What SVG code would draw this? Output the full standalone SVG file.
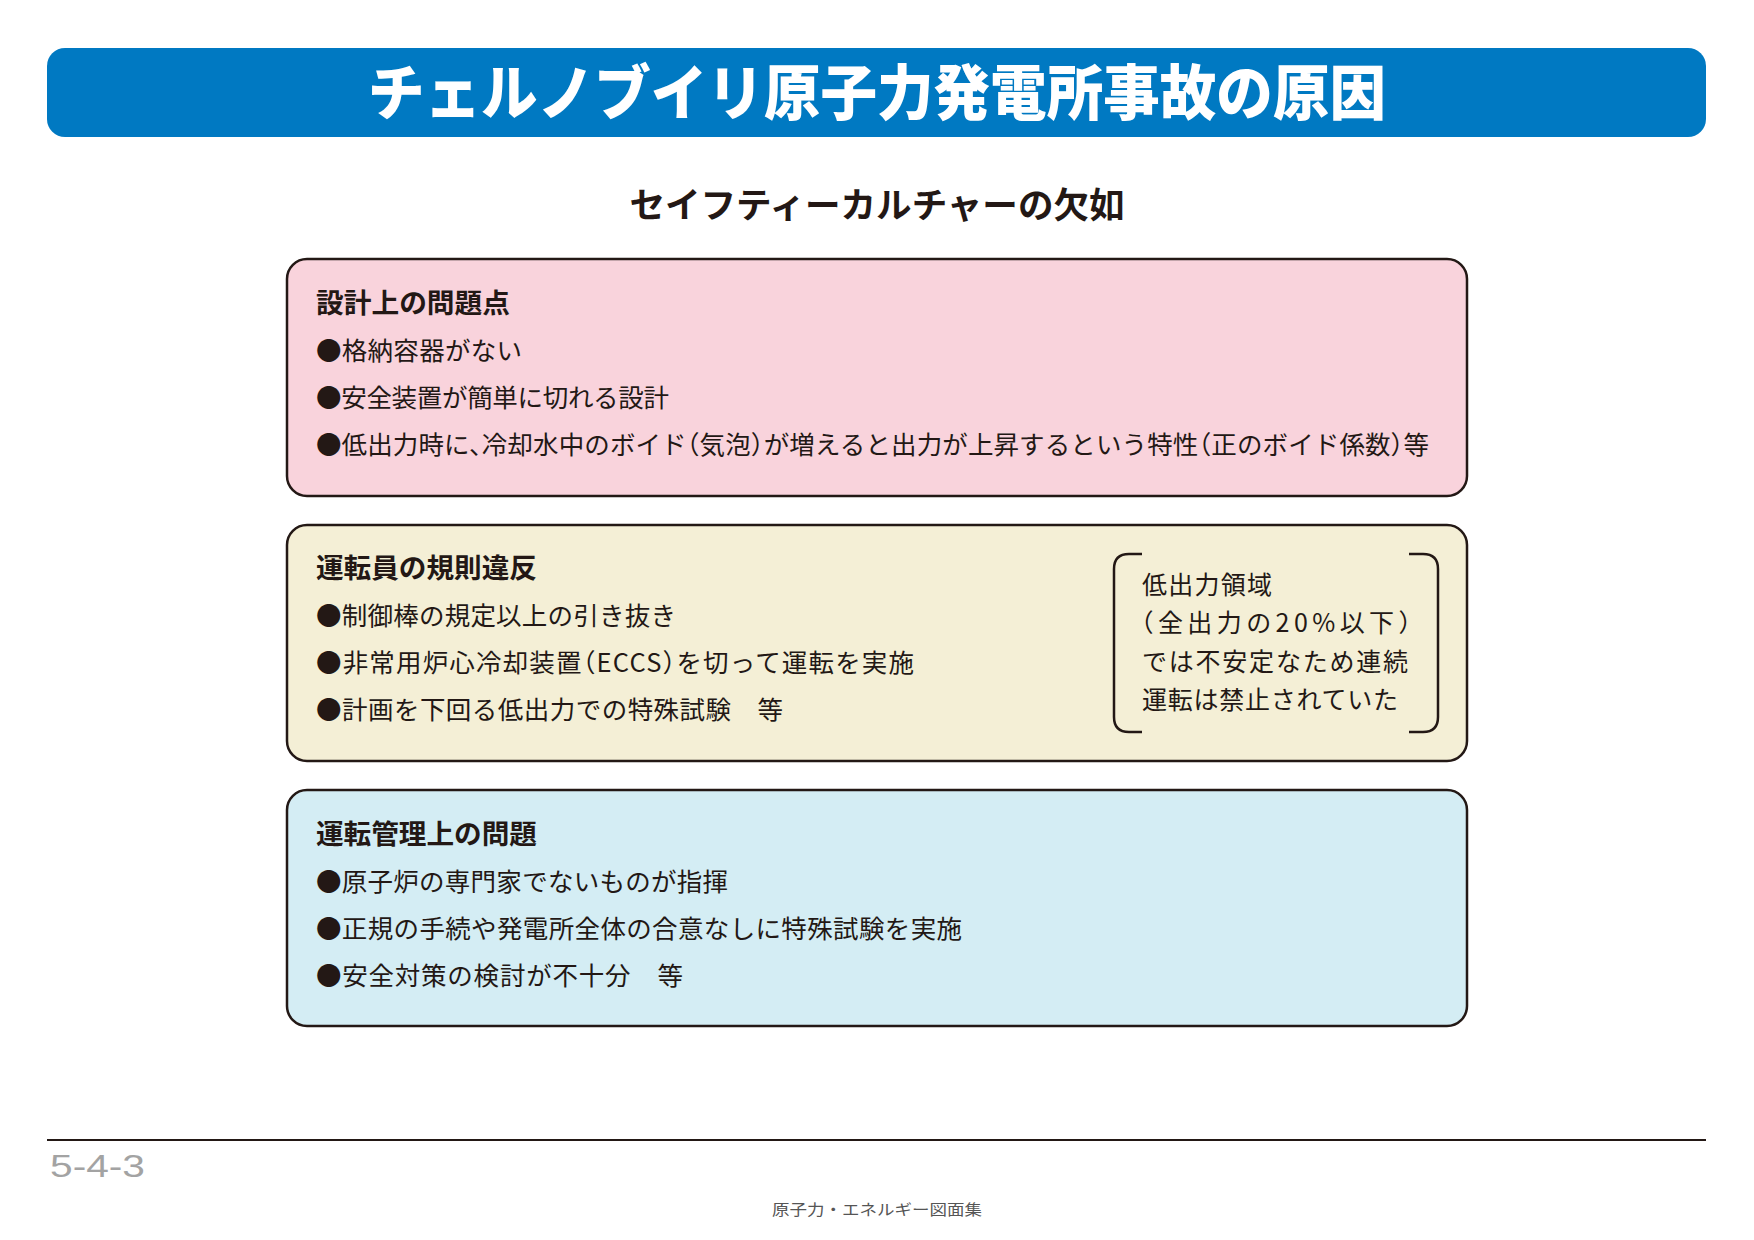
<svg xmlns="http://www.w3.org/2000/svg" width="1754" height="1240" viewBox="0 0 1754 1240">
  <style>
    text { font-family: "Noto Sans CJK JP", "Noto Sans", sans-serif; fill: #231815; }
    .title { font-size: 60px; font-weight: 900; fill: #ffffff; }
    .sub { font-size: 35px; font-weight: 700; }
    .head { font-size: 27px; font-weight: 700; }
    .item { font-size: 25.5px; font-weight: 400; }
    .note { font-size: 25px; font-weight: 400; }
    .halt { font-feature-settings: "halt" 1; }
    .box { stroke: #231815; stroke-width: 2.5; }
    .bracket { fill: none; stroke: #231815; stroke-width: 2.5; stroke-linecap: butt; }
    .pageno { font-family: "Liberation Sans", "DejaVu Sans", sans-serif; font-size: 31px; fill: #a3a3a3; }
    .foot { font-size: 15px; fill: #555555; }
  </style>
  <rect x="0" y="0" width="1754" height="1240" fill="#ffffff"/>

  <g id="title">
    <rect x="47" y="48" width="1659" height="89" rx="18" ry="18" fill="#0079C2"/>
    <text class="title" x="877" y="115" text-anchor="middle" textLength="1018" lengthAdjust="spacingAndGlyphs">チェルノブイリ原子力発電所事故の原因</text>
  </g>

  <g id="subtitle">
    <text class="sub" x="877" y="218" text-anchor="middle" textLength="495" lengthAdjust="spacingAndGlyphs">セイフティーカルチャーの欠如</text>
  </g>

  <g id="connectors"></g>

  <g id="box-design">
    <rect class="box" x="287" y="259" width="1180" height="237" rx="20" ry="20" fill="#F9D3DC"/>
    <text class="head" x="316" y="313" textLength="194" lengthAdjust="spacingAndGlyphs">設計上の問題点</text>
    <text class="item" x="316" y="360" textLength="206" lengthAdjust="spacing">●格納容器がない</text>
    <text class="item" x="316" y="407" textLength="353" lengthAdjust="spacing">●安全装置が簡単に切れる設計</text>
    <text class="item halt" x="316" y="454" textLength="1113" lengthAdjust="spacing">●低出力時に、冷却水中のボイド（気泡）が増えると出力が上昇するという特性（正のボイド係数）等</text>
  </g>

  <g id="box-operator">
    <rect class="box" x="287" y="525" width="1180" height="236" rx="20" ry="20" fill="#F4EFD6"/>
    <text class="head" x="316" y="578" textLength="221" lengthAdjust="spacingAndGlyphs">運転員の規則違反</text>
    <text class="item" x="316" y="625" textLength="360" lengthAdjust="spacing">●制御棒の規定以上の引き抜き</text>
    <text class="item halt" x="316" y="672" textLength="598" lengthAdjust="spacing">●非常用炉心冷却装置（ECCS）を切って運転を実施</text>
    <text class="item" x="316" y="719" textLength="467" lengthAdjust="spacing">●計画を下回る低出力での特殊試験　等</text>
  </g>

  <g id="note">
    <path class="bracket" d="M1142,554 H1129 Q1114,554 1114,569 V717 Q1114,732 1129,732 H1142"/>
    <path class="bracket" d="M1409,554 H1423 Q1438,554 1438,569 V717 Q1438,732 1423,732 H1409"/>
    <text class="note" x="1142" y="594" textLength="130" lengthAdjust="spacing">低出力領域</text>
    <text class="note halt" x="1141" y="632" textLength="270" lengthAdjust="spacing">（全出力の20%以下）</text>
    <text class="note" x="1142" y="671" textLength="266" lengthAdjust="spacing">では不安定なため連続</text>
    <text class="note" x="1142" y="709" textLength="256" lengthAdjust="spacing">運転は禁止されていた</text>
  </g>

  <g id="box-management">
    <rect class="box" x="287" y="790" width="1180" height="236" rx="20" ry="20" fill="#D4EDF4"/>
    <text class="head" x="316" y="844" textLength="221" lengthAdjust="spacingAndGlyphs">運転管理上の問題</text>
    <text class="item" x="316" y="891" textLength="412" lengthAdjust="spacing">●原子炉の専門家でないものが指揮</text>
    <text class="item" x="316" y="938" textLength="646" lengthAdjust="spacing">●正規の手続や発電所全体の合意なしに特殊試験を実施</text>
    <text class="item" x="316" y="985" textLength="367" lengthAdjust="spacing">●安全対策の検討が不十分　等</text>
  </g>

  <g id="footer">
    <line x1="47" y1="1140" x2="1706" y2="1140" stroke="#231815" stroke-width="2"/>
    <text class="pageno" x="50" y="1177" textLength="95" lengthAdjust="spacingAndGlyphs">5-4-3</text>
    <text class="foot" x="877" y="1215" text-anchor="middle" textLength="210" lengthAdjust="spacingAndGlyphs">原子力・エネルギー図面集</text>
  </g>
</svg>
